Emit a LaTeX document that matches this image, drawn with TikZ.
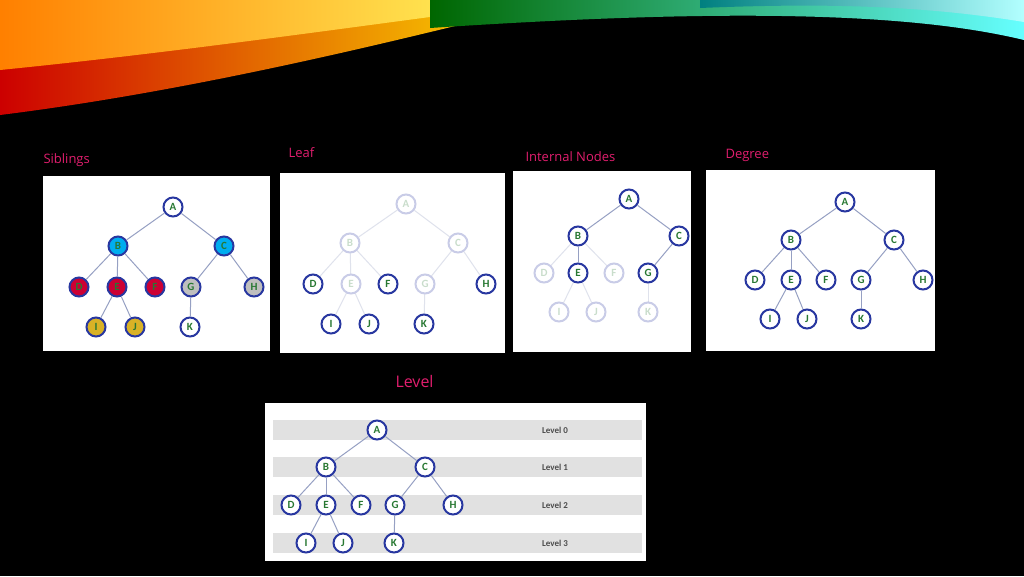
\documentclass[tikz,border=0pt]{standalone}
\usepackage{fontspec}
\setmainfont{Open Sans}
\newfontfamily\calfont{Carlito}
\usetikzlibrary{positioning}
\definecolor{ringblue}{RGB}{40,55,160}
\definecolor{lettergreen}{RGB}{40,120,50}
\definecolor{titlepink}{RGB}{225,30,110}
\definecolor{edgegray}{RGB}{150,160,195}
\definecolor{bandgray}{RGB}{225,225,225}
\tikzset{
  tnode/.style={circle,draw=ringblue,line width=2pt,fill=white,minimum size=19pt,inner sep=0pt,
    text=lettergreen,font=\calfont\bfseries\fontsize{11}{11}\selectfont},
  faded/.style={draw opacity=0.25,text opacity=0.25},
  edge/.style={draw=edgegray,line width=1pt},
  fedge/.style={draw=edgegray,line width=1pt,draw opacity=0.3},
  panel/.style={fill=white,draw=none},
  ptitle/.style={anchor=west,text=titlepink,font=\fontsize{13}{13}\selectfont},
}
\begin{document}
\begin{tikzpicture}[x=1pt,y=-1pt]
\fill[black] (0,0) rectangle (1024,576);
\useasboundingbox (0,0) rectangle (1024,576);
% header swoosh
\shade[left color=red!80!black,right color=yellow!80!orange] (0,0) -- (560,0) .. controls (400,40) and (200,90) .. (0,115) -- cycle;
\shade[left color=orange,right color=yellow!60!white] (0,0) -- (560,0) .. controls (400,20) and (200,50) .. (0,70) -- cycle;
\shade[left color=green!40!black,right color=cyan!60!white] (430,0) -- (1024,0) -- (1024,40) .. controls (900,10) and (700,10) .. (430,28) -- cycle;
\shade[left color=cyan!50!black,right color=cyan!30!white] (700,0) -- (1024,0) -- (1024,22) .. controls (920,5) and (820,3) .. (700,8) -- cycle;
% panels
\fill[panel] (43,176) rectangle (270,351);
\fill[panel] (280,173) rectangle (505,353);
\fill[panel] (513,171) rectangle (691,352);
\fill[panel] (706,170) rectangle (935,351);
\fill[panel] (265,403) rectangle (646,561);
\node[ptitle] (tsib) at (40,160) {Siblings};
\node[ptitle] (tleaf) at (285,153) {Leaf};
\node[ptitle] (tint) at (522,157) {Internal Nodes};
\node[ptitle] (tdeg) at (722,155) {Degree};
\node[ptitle,font=\fontsize{16}{16}\selectfont] (tlev) at (392,381) {Level};

% Siblings
\foreach \n/\x/\y/\c in {A/173/207/white,B/118/246/cyan,C/224/246/cyan,D/79/287/purple!80!red,E/117/287/purple!80!red,F/155/287/purple!80!red,G/191/287/gray!50,H/254/287/gray!50,I/96/327/brown!60!yellow,J/135/327/brown!60!yellow,K/190/327/white}
  \node[tnode,fill=\c] (s\n) at (\x,\y) {\n};
\foreach \p/\q in {A/B,A/C,B/D,B/E,B/F,C/G,C/H,E/I,E/J,G/K}
  \draw[edge] (s\p) -- (s\q);

% Leaf
\foreach \n/\x/\y/\f in {A/406/204/faded,B/350/243/faded,C/458/243/faded,D/313/284/,E/351/284/faded,F/388/284/,G/425/284/faded,H/486/284/,I/331/324/,J/369/324/,K/424/324/}
  \node[tnode,\f] (l\n) at (\x,\y) {\n};
\foreach \p/\q in {A/B,A/C,B/D,B/E,B/F,C/G,C/H,E/I,E/J,G/K}
  \draw[fedge] (l\p) -- (l\q);

% Internal nodes
\foreach \n/\x/\y/\f in {A/629/199/,B/578/236/,C/679/236/,D/544/273/faded,E/578/273/,F/614/273/faded,G/648/273/,I/559/312/faded,J/596/312/faded,K/648/312/faded}
  \node[tnode,\f] (i\n) at (\x,\y) {\n};
\foreach \p/\q in {A/B,A/C,B/E,C/G}
  \draw[edge] (i\p) -- (i\q);
\foreach \p/\q in {B/D,B/F,E/I,E/J,G/K}
  \draw[fedge] (i\p) -- (i\q);

% Degree
\foreach \n/\x/\y in {A/845/202,B/791/240,C/894/240,D/755/280,E/791/280,F/826/280,G/861/280,H/923/280,I/770/319,J/807/319,K/861/319}
  \node[tnode] (d\n) at (\x,\y) {\n};
\foreach \p/\q in {A/B,A/C,B/D,B/E,B/F,C/G,C/H,E/I,E/J,G/K}
  \draw[edge] (d\p) -- (d\q);

% Level
\foreach \k/\y in {0/430,1/467,2/505,3/543}{
  \fill[bandgray] (273,\y-10) rectangle (642,\y+10);
  \node[text=gray!60!black,font=\calfont\bfseries\fontsize{9}{9}\selectfont] (lv\k) at (555,\y) {Level \k};
}
\foreach \n/\x/\y in {A/377/430,B/326/467,C/425/467,D/291/505,E/326/505,F/361/505,G/395/505,H/453/505,I/306/543,J/343/543,K/394/543}
  \node[tnode] (v\n) at (\x,\y) {\n};
\foreach \p/\q in {A/B,A/C,B/D,B/E,B/F,C/G,C/H,E/I,E/J,G/K}
  \draw[edge] (v\p) -- (v\q);
\end{tikzpicture}
\end{document}
